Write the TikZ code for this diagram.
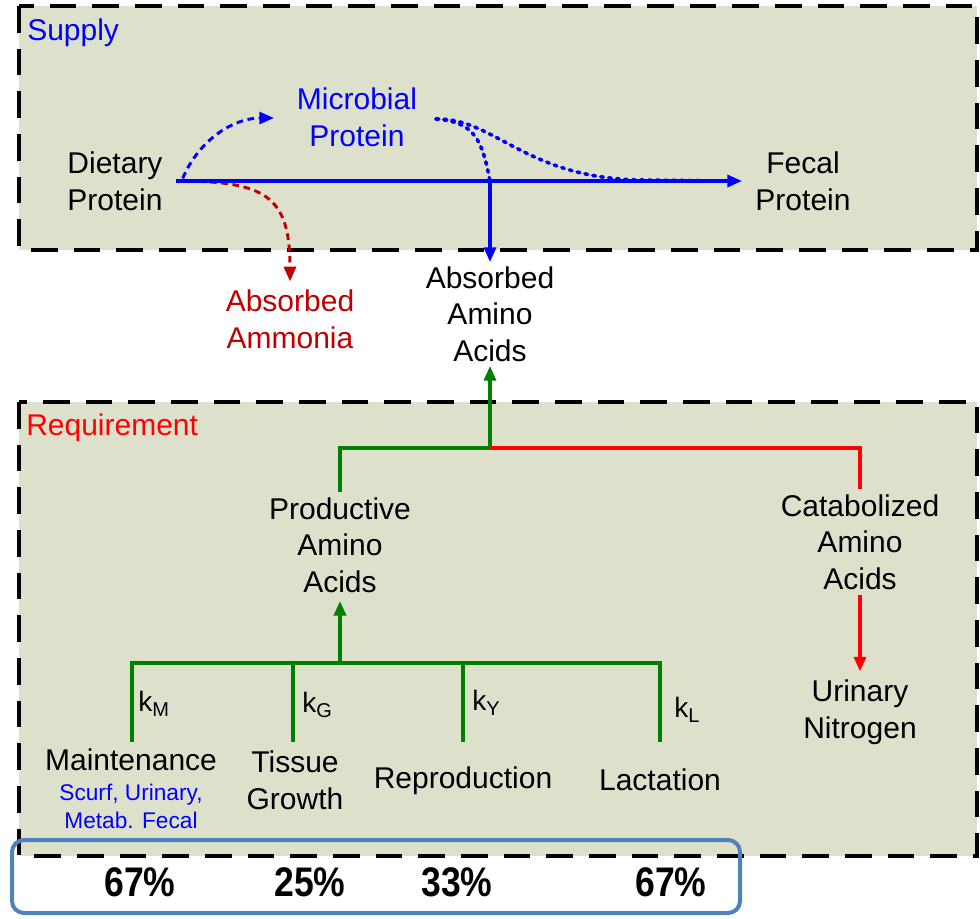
\documentclass[tikz,border=0pt]{standalone}
\usepackage{fontspec}
\setmainfont{Liberation Sans}
\newfontfamily\pctfont[FakeStretch=0.86]{Liberation Sans}
\usetikzlibrary{arrows.meta}
\definecolor{panel}{RGB}{221,225,204}
\definecolor{pureblue}{RGB}{0,0,255}
\definecolor{darkred}{RGB}{192,0,0}
\definecolor{purered}{RGB}{255,0,0}
\definecolor{dkgreen}{RGB}{0,128,0}
\definecolor{boxblue}{RGB}{79,129,189}
\begin{document}
\begin{tikzpicture}[x=0.75pt,y=-0.75pt,
  lbl/.style={align=center,font=\fontsize{22.5}{27.5}\selectfont,inner sep=0pt},
  sublbl/.style={align=center,font=\fontsize{17}{21}\selectfont,inner sep=0pt,text=pureblue},
  klbl/.style={anchor=west,font=\fontsize{21}{24}\selectfont,inner sep=0pt},
  pct/.style={font=\pctfont\bfseries\fontsize{31}{34}\selectfont,inner sep=0pt},
  panelbox/.style={fill=panel,draw=black,line width=2.3pt,dash pattern=on 20pt off 12pt},
  tipA/.style={-{Triangle[length=11pt,width=9pt]}},
  bsolid/.style={draw=pureblue,line width=2.4pt},
  bdash/.style={draw=pureblue,line width=2.2pt,dash pattern=on 5pt off 3.5pt},
  bdot/.style={draw=pureblue,line width=2.7pt,dash pattern=on 2pt off 4pt,line cap=round},
  rdash/.style={draw=darkred,line width=2.2pt,dash pattern=on 5pt off 3.5pt},
  gline/.style={draw=dkgreen,line width=2.4pt},
  rline/.style={draw=purered,line width=2.4pt}]
\useasboundingbox (0,0) rectangle (980,918);

% panels
\draw[panelbox] (19,6) rectangle (977,250);
\draw[panelbox] (19,402) rectangle (977,856);

\node[lbl,anchor=west,text=pureblue] (supply) at (27,33) {Supply};
\node[lbl,anchor=west,text=purered] (req) at (26,428) {Requirement};

% supply nodes
\node[lbl] (diet) at (115,181) {Dietary\\Protein};
\node[lbl,text=pureblue] (micro) at (357,117) {Microbial\\Protein};
\node[lbl] (fecal) at (803,181) {Fecal\\Protein};
\node[lbl,text=darkred] (amm) at (290,319) {Absorbed\\Ammonia};
\node[lbl] (aaa) at (490,314) {Absorbed\\Amino\\Acids};

\coordinate (dp) at (176,181);
\coordinate (fin) at (742,181);
\coordinate (j) at (490,181);
\coordinate (mi) at (274,118);
\coordinate (mo) at (436,119);

% supply connectors
\draw[rdash,tipA] (dp) .. controls (265,181) and (290,195) .. ([yshift=6pt]amm.north);
\draw[bdash,tipA] ([xshift=5pt,yshift=2pt]dp) .. controls (200,138) and (235,118) .. (mi);
\draw[bdot] (mo) .. controls (475,122) and (482,140) .. (j);
\draw[bdot] (mo) .. controls (495,118) and (525,178) .. (640,180) -- (720,181);
\draw[bsolid,tipA] (dp) -- (fin);
\draw[bsolid,tipA] (j) -- ([yshift=3pt]aaa.north);

% requirement nodes
\node[lbl] (paa) at (340,545) {Productive\\Amino\\Acids};
\node[lbl] (caa) at (860,542) {Catabolized\\Amino\\Acids};
\node[lbl] (un) at (860,712) {Urinary\\Nitrogen};

\coordinate (jr) at (490,448);
\draw[gline] ([yshift=4pt]paa.north) -- (paa.north |- jr) -- (jr);
\draw[gline,tipA] (jr) -- ([yshift=-3pt]aaa.south);
\draw[rline] (jr) -- (jr -| caa.north) -- ([yshift=4pt]caa.north);
\draw[rline,tipA] ([yshift=-4pt]caa.south) -- ([yshift=6pt]un.north);

% bottom
\node[lbl] (mnt) at (131,760) {Maintenance};
\node[sublbl] (msub) at (131,806) {Scurf, Urinary,\\Metab. Fecal};
\node[lbl] (tg) at (295,780) {Tissue\\Growth};
\node[lbl] (rep) at (463,781) {Reproduction};
\node[lbl] (lac) at (660,780) {Lactation};

\coordinate (bus) at (340,663);
\coordinate (bm) at (132,742);
\coordinate (bg) at (293,742);
\coordinate (by) at (463,742);
\coordinate (bl) at (660,742);
\draw[gline] (bm) -- (bm |- bus) -- (bl |- bus) -- (bl);
\draw[gline] (bg) -- (bg |- bus);
\draw[gline] (by) -- (by |- bus);
\draw[draw=dkgreen,line width=3.2pt,tipA] (bus) -- ([yshift=-6pt]paa.south);

\node[klbl] (kM) at (138,704) {k\raisebox{-0.35ex}{\fontsize{15}{17}\selectfont M}};
\node[klbl] (kG) at (302,705) {k\raisebox{-0.35ex}{\fontsize{15}{17}\selectfont G}};
\node[klbl] (kY) at (472,703) {k\raisebox{-0.35ex}{\fontsize{15}{17}\selectfont Y}};
\node[klbl] (kL) at (674,710) {k\raisebox{-0.35ex}{\fontsize{15}{17}\selectfont L}};

% percentages
\draw[draw=boxblue,line width=3pt,rounded corners=9pt] (12,840) rectangle (740,913);
\node[pct] (p1) at (140,882) {67\%};
\node[pct] (p2) at (310,882) {25\%};
\node[pct] (p3) at (457,882) {33\%};
\node[pct] (p4) at (671,882) {67\%};
\end{tikzpicture}
\end{document}
